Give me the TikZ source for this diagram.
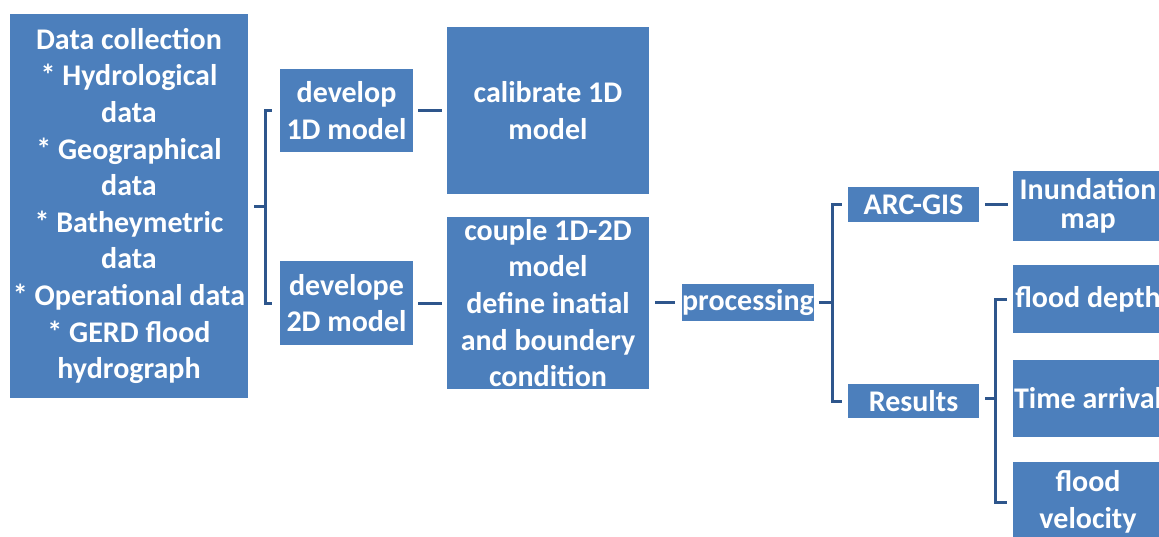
\documentclass[tikz,border=0pt]{standalone}
\usepackage{fontspec}
\setmainfont{Carlito}
\definecolor{boxblue}{RGB}{76,127,188}
\definecolor{lineblue}{RGB}{46,86,140}
\newcommand{\boxfont}{\fontsize{15}{18.3}\selectfont\bfseries}

\begin{document}
\begin{tikzpicture}[x=0.5pt, y=-0.5pt,
    stage/.style={fill=boxblue, text=white, inner sep=0pt, align=center, font=\boxfont},
    link/.style={draw=lineblue, line width=1.5pt}]
      \useasboundingbox (0, 0) rectangle (1159, 536);
      \clip (0, 0) rectangle (1159, 536);

      \node[stage, minimum width=119pt, minimum height=192pt] (data) at (129, 206)
        {Data collection\\ * Hydrological\\ data\\ * Geographical\\ data\\ * Batheymetric\\ data\\ * Operational data\\ * GERD flood\\ hydrograph};

      \node[stage, minimum width=66.5pt, minimum height=41.5pt] (dev1) at (346.5, 110.5) {develop\\ 1D model};
      \node[stage, minimum width=66.5pt, minimum height=42pt] (dev2) at (346.5, 303) {develope\\ 2D model};

      \node[stage, minimum width=101pt, minimum height=83.5pt] (cal) at (548, 110.5) {calibrate 1D\\ model};
      \node[stage, minimum width=101pt, minimum height=86pt] (couple) at (548, 303)
        {couple 1D-2D\\ model\\ define inatial\\ and boundery\\ condition};

      \node[stage, minimum width=66pt, minimum height=18.5pt] (proc) at (748, 302.5) {processing};

      \node[stage, minimum width=65.5pt, minimum height=17.5pt] (arc) at (913.5, 204.5) {ARC-GIS};
      \node[stage, minimum width=65.5pt, minimum height=17pt] (res) at (913.5, 401) {Results};

      \node[stage, minimum width=75pt, minimum height=35pt] (inund) at (1088, 206) {Inundation\\[-3.5pt] map};
      \node[stage, minimum width=75pt, minimum height=34pt] (depth) at (1088, 299) {flood depth};
      \node[stage, minimum width=75pt, minimum height=38.5pt] (time) at (1088, 398.5) {Time arrival};
      \node[stage, minimum width=75pt, minimum height=40pt] (vel) at (1088, 502) {flood\\ velocity};

      % data collection to the two models
      \draw[link] ([xshift=3pt]data.east) -- ++(5.5pt, 0);
      \draw[link] ([xshift=-4pt]dev1.west) -| ([xshift=8.5pt]data.east) |- ([xshift=-4pt]dev2.west);

      \draw[link, shorten <=2.5pt, shorten >=2.5pt] (dev1.east) -- (dev1.east -| cal.west);
      \draw[link, shorten <=2.5pt, shorten >=2.5pt] (dev2.east) -- (dev2.east -| couple.west);
      \draw[link, shorten <=3pt, shorten >=3.5pt] (couple.east |- proc.west) -- (proc.west);

      % processing to ARC-GIS and results
      \draw[link] ([xshift=2.5pt]proc.east) -- ++(6.5pt, 0);
      \draw[link] ([xshift=-3pt]arc.west) -| ([xshift=9pt]proc.east) |- ([xshift=-3pt]res.west);
      \draw[link, shorten <=3pt, shorten >=2.5pt] (arc.east) -- (arc.east -| inund.west);

      % results to the three outputs
      \draw[link] ([xshift=3pt]res.east |- time.west) -- ++(5pt, 0);
      \draw[link] ([xshift=-3pt]depth.west) -| ([xshift=8pt]res.east) |- ([xshift=-3pt]vel.west);
\end{tikzpicture}
\end{document}
